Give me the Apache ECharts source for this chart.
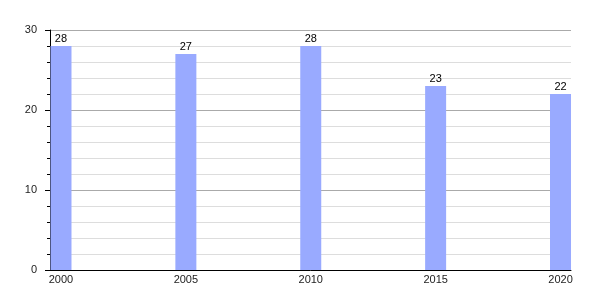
<!DOCTYPE html>
<html><head><meta charset="utf-8">
<script src="https://cdn.jsdelivr.net/npm/echarts@6/dist/echarts.min.js"></script>
<style>html,body{margin:0;padding:0;background:#fff}#c{width:600px;height:300px}</style>
</head><body><div id="c"></div>
<script>
const years = [2000, 2005, 2010, 2015, 2020];
const values = [28, 27, 28, 23, 22];
const yTicks = [0, 10, 20, 30];

const chart = echarts.init(document.getElementById('c'), null, {renderer: 'canvas'});
const font = '"Liberation Sans", Arial, sans-serif';
chart.setOption({
  animation: false,
  textStyle: {fontFamily: font},
  grid: {left: 50, right: 29, top: 30, bottom: 30},
  xAxis: {
    type: 'value', min: 1999.56, max: 2020.42,
    axisLine: {show: true, lineStyle: {color: '#000', width: 1}},
    axisTick: {show: false},
    splitLine: {show: false},
    axisLabel: {customValues: years, formatter: v => String(Math.round(v)), margin: 4, fontSize: 11, color: '#222', fontFamily: font}
  },
  yAxis: {
    type: 'value', min: 0, max: 30, interval: 10,
    axisLine: {show: true, lineStyle: {color: '#000', width: 1}},
    axisTick: {show: true, length: 5, lineStyle: {color: '#000'}},
    minorTick: {show: true, splitNumber: 5, length: 3, lineStyle: {color: '#000'}},
    splitLine: {show: true, lineStyle: {color: '#aaa', width: 1}},
    minorSplitLine: {show: true, lineStyle: {color: '#ddd', width: 1}},
    axisLabel: {margin: 13, fontSize: 11, color: '#222', fontFamily: font}
  },
  series: [{
    type: 'bar',
    data: years.map((y, i) => [y, values[i]]),
    barWidth: 21,
    itemStyle: {color: '#99aaff'},
    label: {show: true, position: 'top', distance: 2, fontSize: 11, color: '#000', fontFamily: font}
  }]
});
</script></body></html>
